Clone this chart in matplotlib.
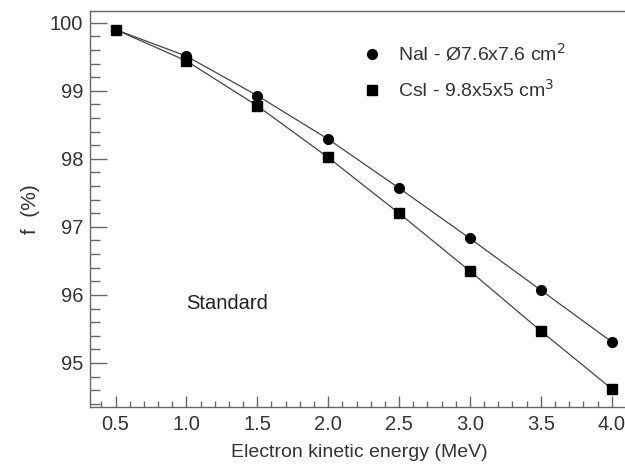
import matplotlib.pyplot as plt
from matplotlib.lines import Line2D
from matplotlib.ticker import MultipleLocator

plt.rcParams['font.family'] = ['Liberation Sans', 'DejaVu Sans']

energia = [0.5, 1.0, 1.5, 2.0, 2.5, 3.0, 3.5, 4.0]
f_nai = [99.90, 99.51, 98.93, 98.29, 97.57, 96.83, 96.07, 95.31]
f_csi = [99.90, 99.44, 98.78, 98.02, 97.20, 96.35, 95.47, 94.62]
rotulos = ['NaI - Ø7.6x7.6 cm$^2$', 'CsI - 9.8x5x5 cm$^3$']

cor_txt = '#333333'

fig = plt.figure(figsize=(6.25, 4.68), dpi=100)
ax = fig.add_axes([0.144, 0.130, 0.862, 0.846])

ax.plot(energia, f_nai, color='#444444', lw=0.9, marker='o', ms=7, mfc='black', mec='black')
ax.plot(energia, f_csi, color='#444444', lw=0.9, marker='s', ms=7, mfc='black', mec='black')

ax.set_xlim(0.32, 4.12)
ax.set_ylim(94.35, 100.17)

ax.xaxis.set_major_locator(MultipleLocator(0.5))
ax.xaxis.set_minor_locator(MultipleLocator(0.1))
ax.yaxis.set_major_locator(MultipleLocator(1))
ax.yaxis.set_minor_locator(MultipleLocator(0.2))
ax.xaxis.set_major_formatter('{x:.1f}')
ax.yaxis.set_major_formatter('{x:.0f}')

ax.tick_params(axis='x', which='major', direction='in', length=8, width=1, colors='#666666', labelcolor=cor_txt, labelsize=14.5, pad=6)
ax.tick_params(axis='x', which='minor', direction='in', length=4, width=1, colors='#666666')
ax.tick_params(axis='y', which='major', direction='in', length=12, width=1, colors='#666666', labelcolor=cor_txt, labelsize=14.5, pad=5)
ax.tick_params(axis='y', which='minor', direction='in', length=7, width=1, colors='#666666')
ax.tick_params(top=False, right=False)

for s in ax.spines.values():
    s.set_color('#666666')
    s.set_linewidth(1.0)
ax.spines['right'].set_visible(False)

ax.set_xlabel('Electron kinetic energy (MeV)', fontsize=14, color=cor_txt, labelpad=7)
ax.set_ylabel('f  (%)', fontsize=15, color=cor_txt, labelpad=7)

ax.text(1.0, 95.88, 'Standard', fontsize=14.5, color='#222222', va='center')

handles = [Line2D([], [], ls='none', marker='o', ms=7, color='black'),
           Line2D([], [], ls='none', marker='s', ms=7, color='black')]
ax.legend(handles, rotulos, loc='upper left', bbox_to_anchor=(0.47, 0.965), frameon=False,
          fontsize=14, labelcolor=cor_txt, handletextpad=0.7, labelspacing=0.75, handlelength=1.2)

fig.savefig('out.png', dpi=100)
